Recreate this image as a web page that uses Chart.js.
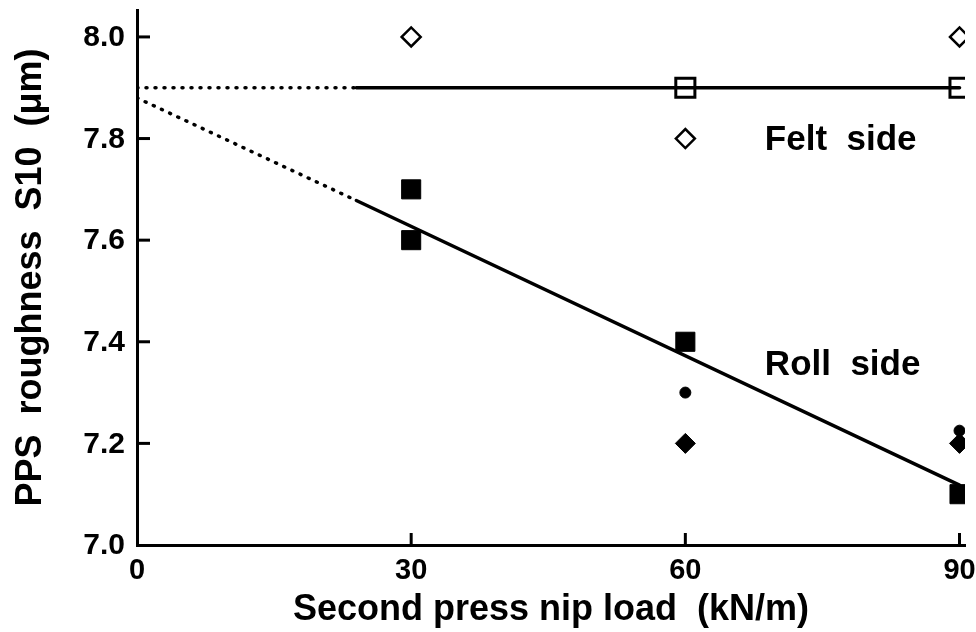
<!DOCTYPE html>
<html>
<head>
<meta charset="utf-8">
<script src="https://cdn.jsdelivr.net/npm/chart.js@4/dist/chart.umd.min.js"></script>
<style>
  body { margin: 0; background: #fff; }
</style>
</head>
<body>
<canvas id="chart" width="976" height="632"></canvas>
<script>
// nip load values (kN/m)
const loadX = [30, 60, 90];

// felt side (open markers)
const feltSquare = [null, 7.9, 7.9];
const feltDiamond = [8.0, 7.8, 8.0];
const feltCircle = [8.0, 7.9, 7.9];

// roll side (filled markers)
const rollSquareX = [30, 30, 60, 90];
const rollSquare = [7.7, 7.6, 7.4, 7.1];
const rollCircle = [null, 7.3, 7.225];
const rollDiamond = [null, 7.2, 7.2];

// fitted lines, first segment dotted (extrapolation)
const fitX = [0, 24, 90];
const feltFit = [7.9, 7.9, 7.9];
const rollFit = [7.88, 7.678, 7.118];

// axis ticks
const xTicks = [0, 30, 60, 90];
const yTicks = [7.0, 7.2, 7.4, 7.6, 7.8, 8.0];

// text labels inside plot
const noteText = ['Felt  side', 'Roll  side'];
const noteX = [68.7, 68.7];
const noteY = [7.797, 7.354];

const FONT = '"Liberation Sans", Arial, sans-serif';

const pts = (xs, ys) => xs.map((x, i) => ({ x: x, y: ys[i] })).filter(p => p.y !== null);

// tick labels are drawn here (so they don't shrink the plot area),
// plus inward tick marks and the two side labels
const extras = {
    id: 'extras',
    afterDatasetsDraw(chart) {
        const { ctx, scales: { x, y } } = chart;
        ctx.save();
        ctx.strokeStyle = '#000';
        ctx.fillStyle = '#000';
        ctx.lineWidth = 3;

        ctx.font = 'bold 30px ' + FONT;
        ctx.textAlign = 'right';
        ctx.textBaseline = 'middle';
        y.ticks.forEach(t => {
            const py = y.getPixelForValue(t.value);
            ctx.fillText(t.value.toFixed(1), x.left - 12, py + 1);
            if (t.value === yTicks[0]) return;
            ctx.beginPath();
            ctx.moveTo(x.left, py);
            ctx.lineTo(x.left + 13, py);
            ctx.stroke();
        });

        ctx.font = 'bold 29px ' + FONT;
        ctx.textAlign = 'center';
        ctx.textBaseline = 'top';
        x.ticks.forEach(t => {
            const px = x.getPixelForValue(t.value);
            ctx.fillText(String(t.value), px, y.bottom + 11);
            if (t.value === xTicks[0]) return;
            ctx.beginPath();
            ctx.moveTo(px, y.bottom);
            ctx.lineTo(px, y.bottom - 12);
            ctx.stroke();
        });

        ctx.font = 'bold 35px ' + FONT;
        ctx.textBaseline = 'middle';
        ctx.textAlign = 'left';
        noteText.forEach((txt, i) => {
            ctx.fillText(txt, x.getPixelForValue(noteX[i]), y.getPixelForValue(noteY[i]));
        });
        ctx.restore();
    }
};

const dotted = ctx => ctx.p0DataIndex === 0 ? [1, 8] : undefined;

new Chart(document.getElementById('chart').getContext('2d'), {
    type: 'scatter',
    data: {
        datasets: [
            {
                type: 'line', data: pts(fitX, feltFit), borderColor: '#000', borderWidth: 3.5,
                borderCapStyle: 'round', pointRadius: 0, segment: { borderDash: dotted }
            },
            {
                type: 'line', data: pts(fitX, rollFit), borderColor: '#000', borderWidth: 3.5,
                borderCapStyle: 'round', pointRadius: 0, segment: { borderDash: dotted }
            },
            {
                data: pts(loadX, feltSquare), pointStyle: 'rect', pointRadius: 13.5,
                backgroundColor: '#fff', borderColor: '#000', borderWidth: 3
            },
            {
                data: pts(loadX, feltDiamond), pointStyle: 'rectRot', pointRadius: 9.5,
                backgroundColor: '#fff', borderColor: '#000', borderWidth: 2.5
            },
            {
                data: pts(loadX, feltCircle), pointStyle: 'circle', pointRadius: 3.5,
                backgroundColor: '#fff', borderColor: '#000', borderWidth: 2
            },
            {
                data: pts(rollSquareX, rollSquare), pointStyle: 'rect', pointRadius: 13.5,
                backgroundColor: '#000', borderColor: '#000', borderWidth: 1
            },
            {
                data: pts(loadX, rollCircle), pointStyle: 'circle', pointRadius: 5.5,
                backgroundColor: '#000', borderColor: '#000', borderWidth: 1
            },
            {
                data: pts(loadX, rollDiamond), pointStyle: 'rectRot', pointRadius: 10,
                backgroundColor: '#000', borderColor: '#000', borderWidth: 1
            }
        ]
    },
    options: {
        responsive: false,
        animation: false,
        layout: { autoPadding: false, padding: { top: 10, right: 11, left: 0, bottom: 0 } },
        plugins: { legend: { display: false }, tooltip: { enabled: false } },
        scales: {
            x: {
                type: 'linear', min: 0, max: 90.6,
                afterBuildTicks: s => { s.ticks = xTicks.map(v => ({ value: v })); },
                afterFit: s => { s.height = 87; },
                grid: { display: false, drawTicks: false },
                border: { display: true, color: '#000', width: 3 },
                ticks: { display: false },
                title: {
                    display: true, text: 'Second press nip load  (kN/m)', color: '#000',
                    font: { family: FONT, size: 36, weight: 'bold' }, padding: { top: 0, bottom: 0 }
                }
            },
            y: {
                type: 'linear', min: 7.0, max: 8.053,
                afterBuildTicks: s => { s.ticks = yTicks.map(v => ({ value: v })); },
                afterFit: s => { s.width = 137; },
                grid: { display: false, drawTicks: false },
                border: { display: true, color: '#000', width: 3 },
                ticks: { display: false },
                title: {
                    display: true, text: 'PPS  roughness  S10  (μm)', color: '#000',
                    font: { family: FONT, size: 36, weight: 'bold' }, padding: { top: 9, bottom: 0 }
                }
            }
        }
    },
    plugins: [extras]
});
</script>
</body>
</html>
